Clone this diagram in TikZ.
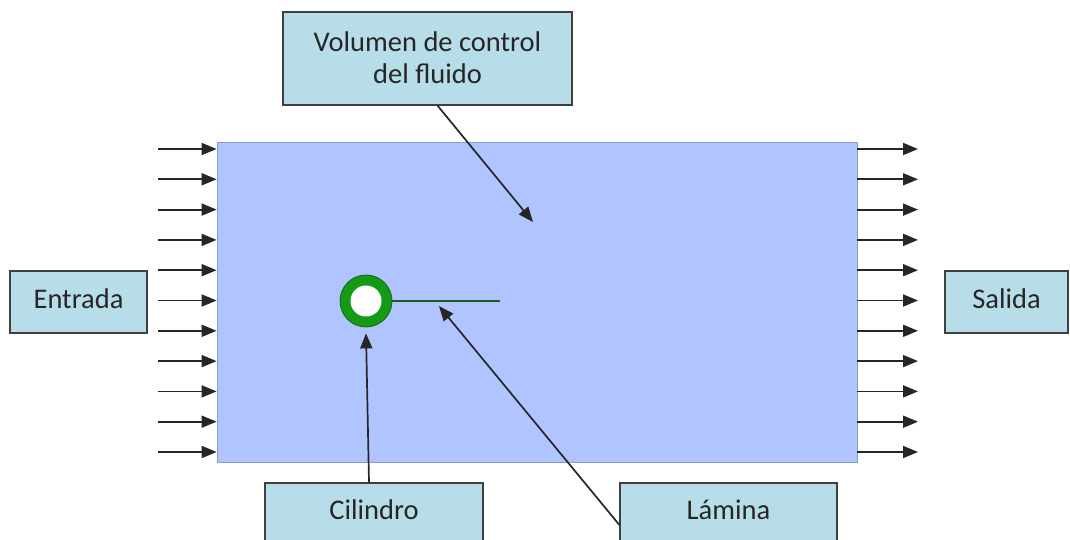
\documentclass[tikz,border=0pt]{standalone}
\usepackage{fontspec}
\setmainfont{Carlito}
\usetikzlibrary{arrows.meta,calc}

\definecolor{boxfill}{HTML}{B7DDE8}
\definecolor{boxline}{HTML}{404040}
\definecolor{domainfill}{HTML}{B0C4FF}
\definecolor{domainline}{HTML}{8C9CC8}
\definecolor{ringgreen}{HTML}{169A16}
\definecolor{ringline}{HTML}{0E6A0E}
\definecolor{plategreen}{HTML}{1E5E1E}

\tikzset{
  label box/.style={draw=boxline, line width=1.1pt, fill=boxfill, inner sep=0pt,
    font=\fontsize{28.5}{31}\selectfont, align=center, text=black!85},
  flow/.style={line width=1.8pt, draw=black!85,
    -{Triangle[length=15pt,width=12pt]}},
  pointer/.style={line width=1.7pt, draw=black!85,
    -{Triangle[length=15pt,width=12pt]}},
}

\begin{document}
\begin{tikzpicture}[x=1pt,y=-1pt]
  \useasboundingbox (0,0) rectangle (1070,540);
  \clip (0,0) rectangle (1070,540);

  % fluid domain
  \node[draw=domainline, line width=0.8pt, fill=domainfill, minimum width=640pt,
        minimum height=320pt, inner sep=0pt] (domain) at (537,302) {};

  % inflow and outflow arrows
  \foreach \k in {0,...,10} {
    \pgfmathsetmacro{\yy}{149+30.3*\k}
    \coordinate (in\k) at (158,\yy);
    \coordinate (out\k) at (918,\yy);
    \draw[flow] (in\k) -- (in\k -| domain.west);
    \draw[flow] (out\k -| domain.east) -- (out\k);
  }

  % cylinder and splitter plate
  \node[circle, draw=ringline, line width=0.8pt, fill=ringgreen, minimum size=52pt,
        inner sep=0pt] (cyl) at (366,301) {};
  \node[circle, fill=white, minimum size=31pt, inner sep=0pt] (hole) at (cyl.center) {};
  \coordinate (plateend) at (500,301);
  \draw[plategreen, line width=2pt] (cyl.east) -- (plateend);
  \coordinate (platept) at (439,306);
  \coordinate (domainpt) at (533,222);

  % labels
  \node[label box, minimum width=289pt, minimum height=93pt] (cv) at (427.5,58.5)
    {\raisebox{2pt}{Volumen de control}\\\raisebox{1pt}{del fluido}};
  \node[label box, minimum width=137pt, minimum height=62pt] (in) at (78.5,302)
    {\raisebox{6pt}{Entrada}};
  \node[label box, minimum width=123pt, minimum height=62pt] (out) at (1006.5,302)
    {\raisebox{6pt}{Salida}};
  \node[label box, minimum width=218pt, minimum height=62pt] (cil) at (374,514)
    {\raisebox{8pt}{Cilindro}};
  \node[label box, minimum width=217pt, minimum height=62pt] (lam) at (728.5,514)
    {\raisebox{8pt}{Lámina}};

  % pointers
  \draw[pointer] ([xshift=10pt]cv.south) -- (domainpt);
  \draw[pointer] ([xshift=-5pt]cil.north) -- ([yshift=-6pt]cyl.south);
  \draw[pointer] ([yshift=-11pt]lam.west) -- (platept);
\end{tikzpicture}
\end{document}
